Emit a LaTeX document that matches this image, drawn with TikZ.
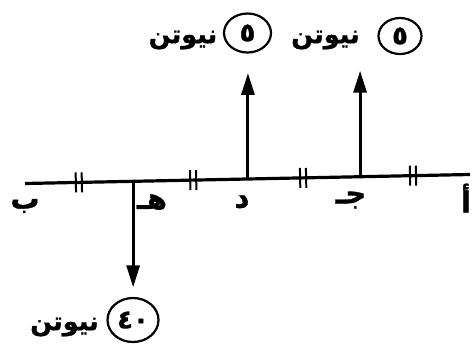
\documentclass[tikz,border=0pt]{standalone}
\usepackage{fontspec}
\TeXXeTstate=1
\newfontfamily\arabicfont[Script=Arabic,FakeBold=1.2]{DejaVu Sans Bold}
\usetikzlibrary{arrows.meta,calc,decorations.markings,shapes.geometric}
\begin{document}
\begin{tikzpicture}[x=1pt,y=-1pt,
  axis/.style={line width=3.2pt},
  force/.style={line width=3pt,-{Triangle[length=22pt,width=13pt]}},
  mag/.style={ellipse,draw,line width=2.2pt,inner sep=0pt,
    font=\arabicfont\fontsize{26}{26}\selectfont},
  unit/.style={font=\arabicfont\fontsize{25.5}{25.5}\selectfont,inner sep=0pt},
  ptlabel/.style={font=\arabicfont\fontsize{29}{29}\selectfont,inner sep=0pt},
  hatch/.style={line width=2pt}
]
\useasboundingbox (0,0) rectangle (472,354);
\coordinate (B) at (25,183.5);
\coordinate (A) at (470,174.5);
\draw[axis, postaction={decorate}, decoration={markings,
  mark=at position 0.121 with {\draw[hatch] (-3pt,-10pt) -- (-3pt,10pt) (3pt,-10pt) -- (3pt,10pt);},
  mark=at position 0.378 with {\draw[hatch] (-3pt,-10pt) -- (-3pt,10pt) (3pt,-10pt) -- (3pt,10pt);},
  mark=at position 0.625 with {\draw[hatch] (-3pt,-10pt) -- (-3pt,10pt) (3pt,-10pt) -- (3pt,10pt);},
  mark=at position 0.872 with {\draw[hatch] (-3pt,-10pt) -- (-3pt,10pt) (3pt,-10pt) -- (3pt,10pt);}
  }] (B) -- (A);
\coordinate (E) at ($(B)!0.243!(A)$);
\coordinate (D) at ($(B)!0.501!(A)$);
\coordinate (J) at ($(B)!0.753!(A)$);
\coordinate (Etip) at ($(E)+(0,106)$);
\coordinate (Dtip) at ($(D)+(0,-106)$);
\coordinate (Jtip) at ($(J)+(0,-106)$);
\draw[force] (E) -- (Etip);
\draw[force] (D) -- (Dtip);
\draw[force] (J) -- (Jtip);
% magnitudes
\node[mag,minimum width=47pt,minimum height=39pt] (mD) at (247.5,33) {٥};
\node[mag,minimum width=43pt,minimum height=36pt] (mJ) at (400,36) {٥};
\node[mag,minimum width=51pt,minimum height=44pt] (mE) at (133,320) {٤٠};
\node[unit] (uD) at (183,40) {\beginR نيوتن\endR};
\node[unit] (uJ) at (325.5,40) {\beginR نيوتن\endR};
\node[unit] (uE) at (64.5,327) {\beginR نيوتن\endR};
% point labels
\node[ptlabel] (lB) at (25,206) {\beginR ب\endR};
\node[ptlabel] (lE) at (152,202) {\beginR هـ\endR};
\node[ptlabel] (lD) at (242,202) {\beginR د\endR};
\node[ptlabel] (lJ) at (351,200) {\beginR جـ\endR};
\node[ptlabel] (lA) at (466,198) {\beginR أ\endR};
\end{tikzpicture}
\end{document}
